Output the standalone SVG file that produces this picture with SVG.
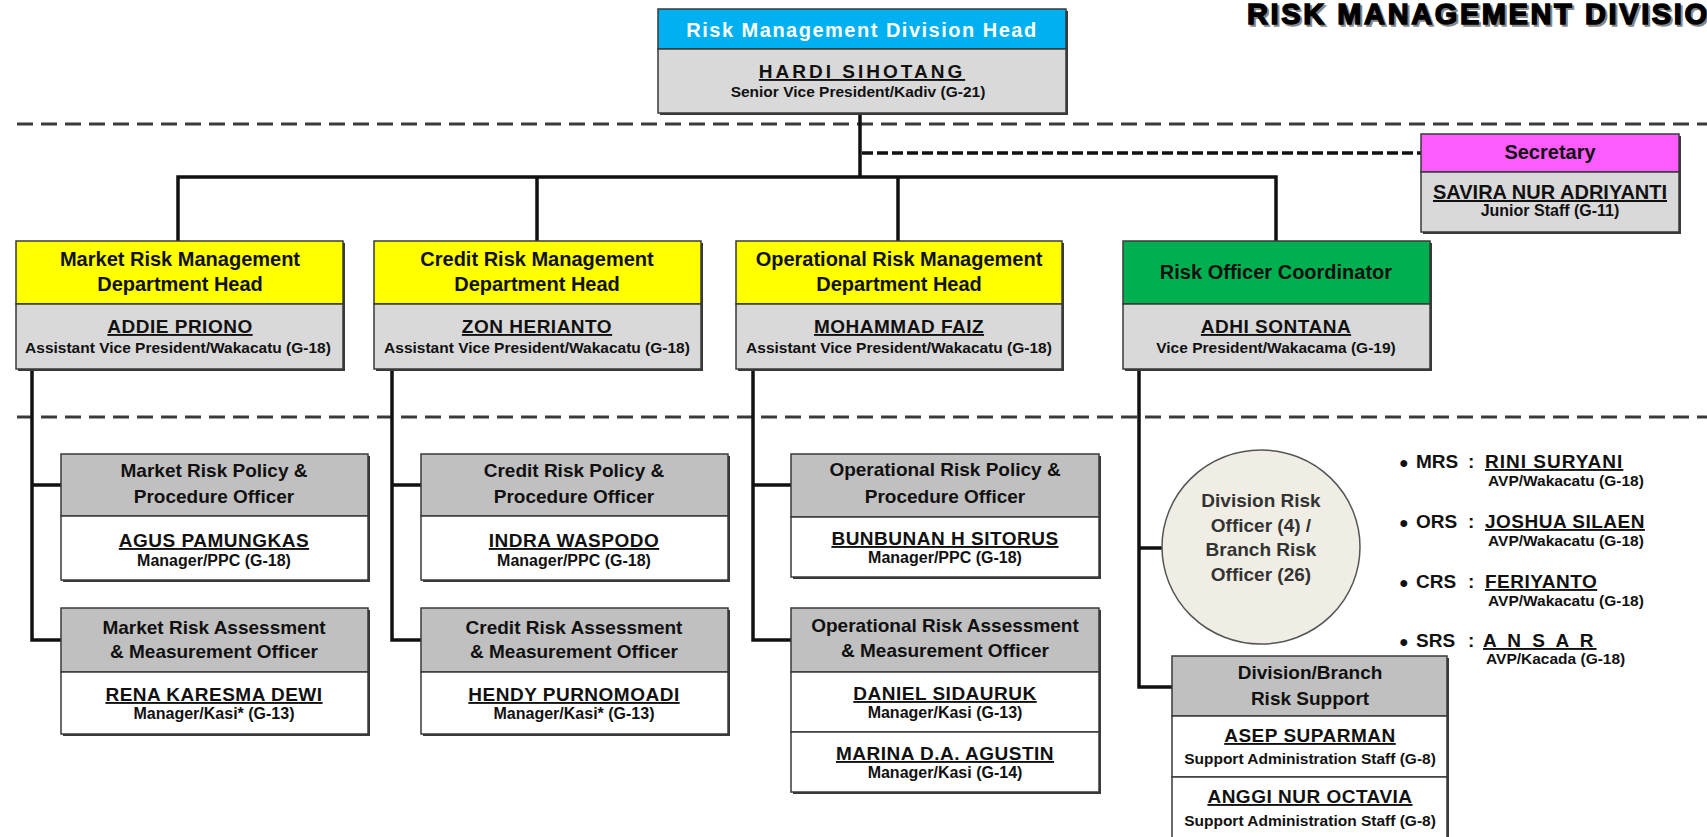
<svg xmlns="http://www.w3.org/2000/svg" width="1707" height="837" viewBox="0 0 1707 837">
<style>
text{font-family:"Liberation Sans",Arial,sans-serif;font-weight:bold;fill:#111;text-anchor:middle}
.box{stroke:#3a3a3a;stroke-width:1.5}
.sh{fill:#3a3a3a}
.blue{fill:#00B0F0}.yel{fill:#FFFF00}.grn{fill:#00B050}.mag{fill:#FF5CFF}
.lg{fill:#D9D9D9}.mg{fill:#C0C0C0}.wh{fill:#FFFFFF}
.h20{font-size:20px}.h19{font-size:19px}
.nm{font-size:19px;text-decoration:underline;letter-spacing:0.5px}
.sub{font-size:15.5px}.sub16{font-size:16px}
.conn{stroke:#111;stroke-width:3.5;fill:none;stroke-linecap:square}
.dash{stroke:#3a3a3a;stroke-width:3;stroke-dasharray:16 8;fill:none}
.dashb{stroke:#111;stroke-width:3.5;stroke-dasharray:11 4;fill:none}
.bl{text-anchor:start}
.ttl{font-size:29px;letter-spacing:2.6px;text-anchor:start}
</style>

<g id="title">
<text x="1249" y="26" class="ttl" style="fill:#888;stroke:#888;stroke-width:1.4">RISK MANAGEMENT DIVISION</text>
<text x="1247" y="24" class="ttl" style="stroke:#000;stroke-width:1.4;fill:#000">RISK MANAGEMENT DIVISION</text>
</g>

<g id="separators">
<line class="dash" x1="17" y1="124" x2="1707" y2="124"/>
<line class="dash" x1="17" y1="417" x2="1707" y2="417"/>
</g>

<g id="connectors">
<path class="conn" d="M860 113 V177 M178 177 H1276 M178 177 V241 M537 177 V241 M898 177 V241 M1276 177 V241"/>
<line class="dashb" x1="862" y1="153" x2="1421" y2="153"/>
<path class="conn" d="M32 369 V640 H61 M32 485 H61"/>
<path class="conn" d="M392 369 V640 H421 M392 485 H421"/>
<path class="conn" d="M753 369 V640 H791 M753 485 H791"/>
<path class="conn" d="M1139 369 V687 H1172 M1139 548 H1161"/>
</g>

<g id="division-head">
<rect class="sh" x="660" y="11" width="408" height="104"/>
<rect class="box blue" x="658" y="9" width="408" height="40"/>
<rect class="box lg" x="658" y="49" width="408" height="64"/>
<text x="862" y="37" class="h20" style="fill:#fff;letter-spacing:1.5px">Risk Management Division Head</text>
<text x="862" y="78" class="nm" style="letter-spacing:3px">HARDI SIHOTANG</text>
<text x="858" y="97" class="sub">Senior Vice President/Kadiv (G-21)</text>
</g>

<g id="secretary">
<rect class="sh" x="1423" y="136" width="258" height="98"/>
<rect class="box mag" x="1421" y="134" width="258" height="38"/>
<rect class="box lg" x="1421" y="172" width="258" height="60"/>
<text x="1550" y="159" class="h20">Secretary</text>
<text x="1550" y="199" class="nm" style="font-size:20px;letter-spacing:0">SAVIRA NUR ADRIYANTI</text>
<text x="1550" y="216" class="sub16">Junior Staff (G-11)</text>
</g>

<g id="market-head">
<rect class="sh" x="18" y="243" width="327" height="128"/>
<rect class="box yel" x="16" y="241" width="327" height="63"/>
<rect class="box lg" x="16" y="304" width="327" height="65"/>
<text x="180" y="266" class="h20">Market Risk  Management</text>
<text x="180" y="291" class="h20">Department Head</text>
<text x="180" y="333" class="nm">ADDIE PRIONO</text>
<text x="178" y="353" class="sub">Assistant Vice President/Wakacatu (G-18)</text>
</g>

<g id="credit-head">
<rect class="sh" x="376" y="243" width="327" height="128"/>
<rect class="box yel" x="374" y="241" width="327" height="63"/>
<rect class="box lg" x="374" y="304" width="327" height="65"/>
<text x="537" y="266" class="h20">Credit Risk  Management</text>
<text x="537" y="291" class="h20">Department Head</text>
<text x="537" y="333" class="nm">ZON HERIANTO</text>
<text x="537" y="353" class="sub">Assistant Vice President/Wakacatu (G-18)</text>
</g>

<g id="operational-head">
<rect class="sh" x="738" y="243" width="326" height="128"/>
<rect class="box yel" x="736" y="241" width="326" height="63"/>
<rect class="box lg" x="736" y="304" width="326" height="65"/>
<text x="899" y="266" class="h20">Operational Risk Management</text>
<text x="899" y="291" class="h20">Department Head</text>
<text x="899" y="333" class="nm">MOHAMMAD FAIZ</text>
<text x="899" y="353" class="sub">Assistant Vice President/Wakacatu (G-18)</text>
</g>

<g id="risk-officer-coordinator">
<rect class="sh" x="1125" y="243" width="307" height="128"/>
<rect class="box grn" x="1123" y="241" width="307" height="63"/>
<rect class="box lg" x="1123" y="304" width="307" height="65"/>
<text x="1276" y="279" class="h20">Risk Officer  Coordinator</text>
<text x="1276" y="333" class="nm">ADHI SONTANA</text>
<text x="1276" y="353" class="sub">Vice President/Wakacama (G-19)</text>
</g>

<g id="market-policy">
<rect class="sh" x="63" y="456" width="307" height="126"/>
<rect class="box mg" x="61" y="454" width="307" height="62"/>
<rect class="box wh" x="61" y="516" width="307" height="64"/>
<text x="214" y="477" class="h19">Market Risk  Policy &amp;</text>
<text x="214" y="503" class="h19">Procedure Officer</text>
<text x="214" y="547" class="nm">AGUS PAMUNGKAS</text>
<text x="214" y="566" class="sub16">Manager/PPC (G-18)</text>
</g>

<g id="market-assessment">
<rect class="sh" x="63" y="610" width="307" height="126"/>
<rect class="box mg" x="61" y="608" width="307" height="64"/>
<rect class="box wh" x="61" y="672" width="307" height="62"/>
<text x="214" y="634" class="h19">Market  Risk  Assessment</text>
<text x="214" y="658" class="h19">&amp; Measurement  Officer</text>
<text x="214" y="701" class="nm">RENA KARESMA DEWI</text>
<text x="214" y="719" class="sub16">Manager/Kasi* (G-13)</text>
</g>

<g id="credit-policy">
<rect class="sh" x="423" y="456" width="307" height="126"/>
<rect class="box mg" x="421" y="454" width="307" height="62"/>
<rect class="box wh" x="421" y="516" width="307" height="64"/>
<text x="574" y="477" class="h19">Credit Risk  Policy &amp;</text>
<text x="574" y="503" class="h19">Procedure Officer</text>
<text x="574" y="547" class="nm">INDRA WASPODO</text>
<text x="574" y="566" class="sub16">Manager/PPC (G-18)</text>
</g>

<g id="credit-assessment">
<rect class="sh" x="423" y="610" width="307" height="126"/>
<rect class="box mg" x="421" y="608" width="307" height="64"/>
<rect class="box wh" x="421" y="672" width="307" height="62"/>
<text x="574" y="634" class="h19">Credit  Risk  Assessment</text>
<text x="574" y="658" class="h19">&amp; Measurement  Officer</text>
<text x="574" y="701" class="nm">HENDY PURNOMOADI</text>
<text x="574" y="719" class="sub16">Manager/Kasi* (G-13)</text>
</g>

<g id="operational-policy">
<rect class="sh" x="793" y="456" width="308" height="123"/>
<rect class="box mg" x="791" y="454" width="308" height="63"/>
<rect class="box wh" x="791" y="517" width="308" height="60"/>
<text x="945" y="476" class="h19">Operational Risk Policy &amp;</text>
<text x="945" y="503" class="h19">Procedure Officer</text>
<text x="945" y="545" class="nm">BUNBUNAN H SITORUS</text>
<text x="945" y="563" class="sub16">Manager/PPC (G-18)</text>
</g>

<g id="operational-assessment">
<rect class="sh" x="793" y="610" width="308" height="184"/>
<rect class="box mg" x="791" y="608" width="308" height="64"/>
<rect class="box wh" x="791" y="672" width="308" height="60"/>
<rect class="box wh" x="791" y="732" width="308" height="60"/>
<text x="945" y="632" class="h19">Operational Risk  Assessment</text>
<text x="945" y="657" class="h19">&amp; Measurement  Officer</text>
<text x="945" y="700" class="nm">DANIEL SIDAURUK</text>
<text x="945" y="718" class="sub16">Manager/Kasi (G-13)</text>
<text x="945" y="760" class="nm">MARINA D.A. AGUSTIN</text>
<text x="945" y="778" class="sub16">Manager/Kasi (G-14)</text>
</g>

<g id="risk-officers">
<ellipse cx="1261" cy="547" rx="99" ry="97" fill="#F0EEE4" stroke="#555" stroke-width="1.5"/>
<text x="1261" y="507" class="h19" style="fill:#333">Division Risk</text>
<text x="1261" y="532" class="h19" style="fill:#333">Officer (4) /</text>
<text x="1261" y="556" class="h19" style="fill:#333">Branch Risk</text>
<text x="1261" y="581" class="h19" style="fill:#333">Officer (26)</text>
</g>

<g id="risk-support">
<rect class="sh" x="1174" y="658" width="275" height="190"/>
<rect class="box mg" x="1172" y="656" width="275" height="60"/>
<rect class="box wh" x="1172" y="716" width="275" height="61"/>
<rect class="box wh" x="1172" y="777" width="275" height="70"/>
<text x="1310" y="679" class="h19">Division/Branch</text>
<text x="1310" y="705" class="h19">Risk Support</text>
<text x="1310" y="742" class="nm">ASEP SUPARMAN</text>
<text x="1310" y="764" class="sub">Support Administration Staff (G-8)</text>
<text x="1310" y="803" class="nm">ANGGI NUR OCTAVIA</text>
<text x="1310" y="826" class="sub">Support Administration Staff (G-8)</text>
</g>

<g id="specialists">
<text x="1399" y="468" class="bl" style="font-size:16px">●</text>
<text x="1416" y="468" class="bl h19">MRS</text>
<text x="1468" y="468" class="bl h19">:</text>
<text x="1485" y="468" class="bl nm" style="letter-spacing:1px">RINI SURYANI</text>
<text x="1488" y="486" class="bl" style="font-size:15.5px">AVP/Wakacatu (G-18)</text>

<text x="1399" y="528" class="bl" style="font-size:16px">●</text>
<text x="1416" y="528" class="bl h19">ORS</text>
<text x="1468" y="528" class="bl h19">:</text>
<text x="1485" y="528" class="bl nm">JOSHUA SILAEN</text>
<text x="1488" y="546" class="bl" style="font-size:15.5px">AVP/Wakacatu (G-18)</text>

<text x="1399" y="588" class="bl" style="font-size:16px">●</text>
<text x="1416" y="588" class="bl h19">CRS</text>
<text x="1468" y="588" class="bl h19">:</text>
<text x="1485" y="588" class="bl nm">FERIYANTO</text>
<text x="1488" y="606" class="bl" style="font-size:15.5px">AVP/Wakacatu (G-18)</text>

<text x="1399" y="647" class="bl" style="font-size:16px">●</text>
<text x="1416" y="647" class="bl h19">SRS</text>
<text x="1468" y="647" class="bl h19">:</text>
<text x="1483" y="647" class="bl nm" style="letter-spacing:3px">A N S A R</text>
<text x="1486" y="664" class="bl" style="font-size:15.5px">AVP/Kacada (G-18)</text>
</g>
</svg>
